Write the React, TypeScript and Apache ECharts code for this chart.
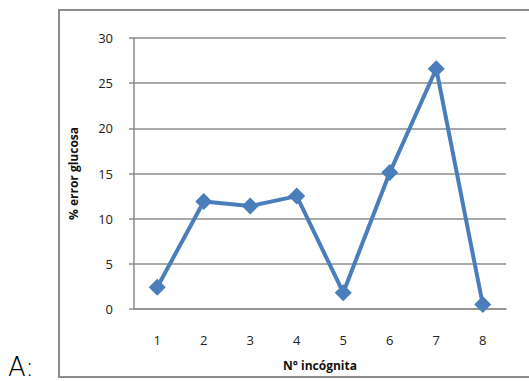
import React, { useEffect, useRef } from "react";
import * as echarts from "echarts";

const categories = ["1", "2", "3", "4", "5", "6", "7", "8"];
const errorValues = [2.4, 11.9, 11.4, 12.5, 1.8, 15.1, 26.6, 0.5];
const yTicks = { min: 0, max: 30, interval: 5 };

export default function App() {
  const ref = useRef<HTMLDivElement>(null);
  useEffect(() => {
    if (!ref.current) return;
    const chart = echarts.init(ref.current, null, { renderer: "svg" });
    const gray = "#8c8c8c";
    chart.setOption({
      animation: false,
      backgroundColor: "#ffffff",
      textStyle: { fontFamily: "Open Sans" },
      grid: { left: 134, right: 23, top: 38, bottom: 72 },
      graphic: [
        {
          type: "rect",
          shape: { x: 59, y: 10, width: 500, height: 367 },
          style: { fill: "none", stroke: gray, lineWidth: 2 },
          z: -1,
        },
        {
          type: "text",
          left: 8,
          top: 354,
          style: {
            text: "A:",
            font: "200 26px 'DejaVu Sans', sans-serif",
            fill: "#000",
          },
        },
      ],
      xAxis: {
        type: "category",
        data: categories,
        boundaryGap: true,
        name: "N° incógnita",
        nameLocation: "middle",
        nameGap: 50,
        nameTextStyle: { fontWeight: "bold", fontSize: 12, color: "#111", fontFamily: "Open Sans" },
        axisLine: { lineStyle: { color: gray, width: 1.5 } },
        axisTick: { show: false },
        axisLabel: { margin: 24, fontSize: 13, color: "#222", fontFamily: "Open Sans" },
      },
      yAxis: {
        type: "value",
        min: yTicks.min,
        max: yTicks.max,
        interval: yTicks.interval,
        name: "% error glucosa",
        nameLocation: "middle",
        nameRotate: 90,
        nameGap: 55,
        nameTextStyle: { fontWeight: "bold", fontSize: 12, color: "#111", fontFamily: "Open Sans" },
        axisLine: { show: true, lineStyle: { color: gray, width: 1.5 } },
        axisTick: { show: true, length: 5, lineStyle: { color: gray, width: 1.5 } },
        axisLabel: { margin: 21, fontSize: 13, color: "#222", fontFamily: "Open Sans" },
        splitLine: { show: true, lineStyle: { color: gray, width: 1.5 } },
      },
      series: [
        {
          type: "line",
          data: errorValues,
          symbol: "diamond",
          symbolSize: 17,
          lineStyle: { color: "#4a7ebb", width: 4 },
          itemStyle: { color: "#4a7ebb" },
        },
      ],
    });
    return () => chart.dispose();
  }, []);
  return (
    <div
      ref={ref}
      style={{ position: "fixed", left: 0, top: 0, width: 529, height: 381 }}
    />
  );
}
